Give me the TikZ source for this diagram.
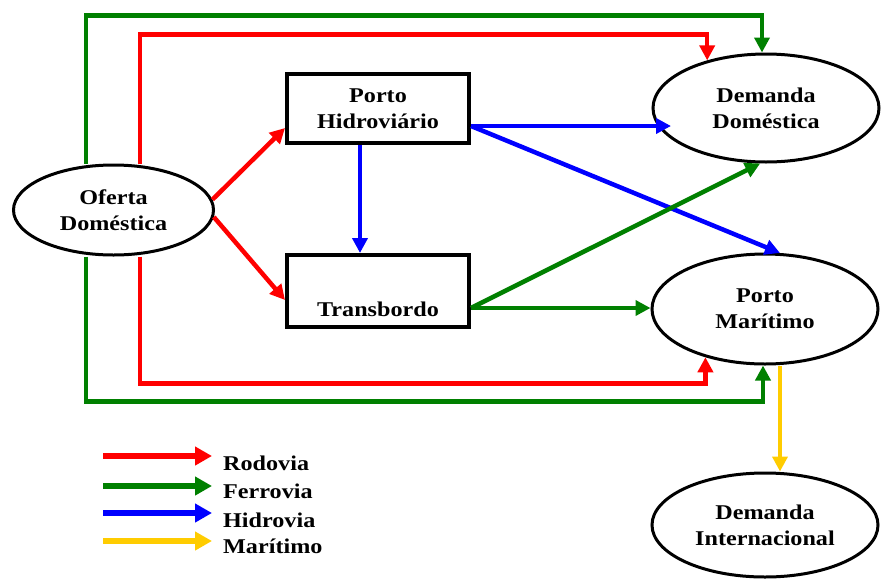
\documentclass[tikz,border=0pt]{standalone}
\usepackage{fontspec}
\setmainfont{Liberation Serif}[FakeStretch=1.15]
\usetikzlibrary{arrows.meta,positioning,shapes.geometric}
\definecolor{rodcolor}{RGB}{255,0,0}
\definecolor{fercolor}{RGB}{0,128,0}
\definecolor{hidcolor}{RGB}{0,0,255}
\definecolor{marcolor}{RGB}{255,204,0}
\tikzset{
  lbltxt/.style={font=\bfseries\fontsize{21}{26}\selectfont, align=center, text=black},
  boxnd/.style={lbltxt, draw, line width=4pt, minimum width=182pt, inner sep=0pt},
  ellnd/.style={lbltxt, ellipse, draw, line width=3pt, fill=white, inner sep=0pt},
  link/.style={line width=4.5pt, -{Triangle[length=15pt,width=15pt]}},
  legln/.style={line width=6pt, -{Triangle[length=17pt,width=18pt]}},
}
\begin{document}
\begin{tikzpicture}[x=1pt, y=-1pt]
    \useasboundingbox (0,0) rectangle (881,579);
    % Nodes
    \node[ellnd, minimum width=200pt, minimum height=90pt] (oferta) at (113.5,210) {Oferta\\Doméstica};
    \node[boxnd, minimum height=69pt] (phid) at (378,108.5) {Porto\\Hidroviário};
    \node[boxnd, minimum height=72pt, text height=52pt] (trans) at (378,291) {Transbordo};
    \node[ellnd, minimum width=226pt, minimum height=108pt] (domdom) at (766,108) {Demanda\\Doméstica};
    \node[ellnd, minimum width=226pt, minimum height=110pt] (pmar) at (765,309) {Porto\\Marítimo};
    \node[ellnd, minimum width=226pt, minimum height=104pt] (dint) at (765,525) {Demanda\\Internacional};
    % Ferrovia loops
    \draw[link, fercolor] ([xshift=-27.5pt]oferta.north) -- ++(0,-148) -| ([xshift=-4pt]domdom.north);
    \draw[link, fercolor] ([xshift=-27.5pt]oferta.south) -- ++(0,145) -| ([xshift=-2pt]pmar.south);
    % Rodovia loops
    \draw[link, rodcolor] ([xshift=26.5pt]oferta.north) -- ++(0,-129) -| (domdom.141.5);
    \draw[link, rodcolor] ([xshift=26.5pt]oferta.south) -- ++(0,127) -| (pmar.219.6);
    % Rodovia to the terminals
    \draw[link, rodcolor] (oferta.6) -- ([yshift=-19.5pt]phid.west);
    \draw[link, rodcolor] (oferta.-4) -- ([yshift=-9pt]trans.west);
    % Hidrovia
    \draw[link, hidcolor] ([xshift=-18pt]phid.south) -- ([xshift=-18pt]trans.north);
    \draw[link, hidcolor, shorten >=-19.5pt] ([yshift=-17.5pt]phid.east) coordinate (hs) -- (hs -| domdom.west);
    \draw[link, hidcolor] (hs) -- (pmar.75);
    % Ferrovia from Transbordo
    \draw[link, fercolor] ([yshift=-17pt]trans.east) coordinate (ts) -- (domdom.264);
    \draw[link, fercolor] (ts) -- (ts -| pmar.west);
    % Maritimo
    \draw[link, marcolor] ([xshift=15pt]pmar.south) -- ([xshift=15pt]dint.north);
    % Legend
    \foreach \ay/\by/\col/\txt/\nm in {456/470/rodcolor/Rodovia/lrod, 486/498/fercolor/Ferrovia/lfer,
        513/527/hidcolor/Hidrovia/lhid, 541/553/marcolor/Marítimo/lmar} {
      \node[lbltxt, anchor=base west, inner sep=0pt] (\nm) at (223,\by) {\txt};
      \coordinate (\nm a) at (103,\ay);
      \draw[legln, \col] (\nm a) -- ++(109,0);
    }
\end{tikzpicture}
\end{document}
